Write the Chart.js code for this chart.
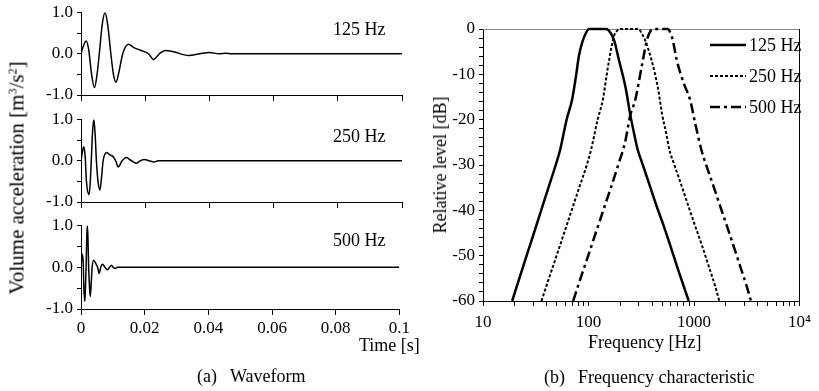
<!DOCTYPE html>
<html>
<head>
<meta charset="utf-8">
<script src="https://cdn.jsdelivr.net/npm/chart.js@4.4.1/dist/chart.umd.min.js"></script>
<style>
body{margin:0;background:#fff}
#wrap{position:relative;width:819px;height:391px;overflow:hidden;font-family:"Liberation Serif","Times New Roman",serif;color:#000}
canvas{position:absolute}
.t{position:absolute;font-size:18px;line-height:1;white-space:nowrap;transform:translateY(-50%)}
.rot{position:absolute;font-size:18px;line-height:1;white-space:nowrap;transform:translate(-50%,-50%) rotate(-90deg)}
sup{font-size:12px;vertical-align:7px;line-height:0}
</style>
</head>
<body>
<div id="wrap">
  <canvas id="w125" width="415" height="110" style="left:0;top:0"></canvas>
  <canvas id="w250" width="415" height="110" style="left:0;top:107px"></canvas>
  <canvas id="w500" width="415" height="178" style="left:0;top:213px"></canvas>
  <canvas id="freq" width="399" height="391" style="left:420px;top:0"></canvas>

  <div class="t" style="left:333px;top:29px">125 Hz</div>
  <div class="t" style="left:333px;top:136px">250 Hz</div>
  <div class="t" style="left:333px;top:240px">500 Hz</div>
  <div class="t" style="left:359px;top:345px">Time [s]</div>
  <div class="rot" style="left:17px;top:178px;font-size:21px">Volume acceleration [m<sup>3</sup>/s<sup>2</sup>]</div>
  <div class="t" style="left:197px;top:376px">(a)</div>
  <div class="t" style="left:230px;top:376px">Waveform</div>

  <div class="rot" style="left:440px;top:165px">Relative level [dB]</div>
  <div class="t" style="left:588px;top:342px">Frequency [Hz]</div>
  <div class="t" style="left:544px;top:377px">(b)</div>
  <div class="t" style="left:578px;top:377px">Frequency characteristic</div>
</div>
<script>
// waveforms (time [s], volume acceleration)
const t125 = [0, 0.0008, 0.0016, 0.0024, 0.0033, 0.0042, 0.005, 0.0057, 0.0066, 0.0075, 0.0084, 0.0093, 0.0101, 0.0109, 0.0118, 0.013, 0.0148, 0.0165, 0.0184, 0.021, 0.0226, 0.0244, 0.0262, 0.0287, 0.0335, 0.037, 0.040, 0.043, 0.045, 0.047, 0.1];
const v125 = [0, 0.2, 0.31, 0.1, -0.5, -0.82, -0.5, 0, 0.7, 1.0, 0.65, 0, -0.5, -0.69, -0.45, 0, 0.23, 0.15, 0.09, 0, -0.14, 0, 0.08, 0.05, -0.04, 0, 0.03, 0, 0.01, 0, 0];

const t250 = [0, 0.0004, 0.0009, 0.0013, 0.0017, 0.0025, 0.0029, 0.0032, 0.0036, 0.004, 0.0044, 0.0048, 0.0053, 0.0059, 0.0064, 0.0069, 0.008, 0.009, 0.01, 0.0108, 0.0116, 0.0128, 0.0141, 0.0157, 0.0172, 0.0185, 0.0197, 0.0212, 0.0228, 0.024, 0.1];
const v250 = [0, 0.2, 0.34, 0.1, -0.5, -0.82, -0.5, 0, 0.7, 1.0, 0.65, 0, -0.5, -0.71, -0.4, 0, 0.2, 0.14, 0.1, 0, -0.15, 0, 0.08, 0, -0.06, 0, 0.03, 0, -0.03, 0, 0];

const t500 = [0, 0.0002, 0.0004, 0.0007, 0.0009, 0.0012, 0.0014, 0.0016, 0.0018, 0.002, 0.0022, 0.0024, 0.0027, 0.0029, 0.0032, 0.0035, 0.004, 0.0047, 0.0052, 0.0057, 0.0062, 0.0068, 0.0075, 0.0083, 0.009, 0.0096, 0.0101, 0.0107, 0.0115, 0.1];
const v500 = [0, 0.2, 0.31, 0.1, -0.5, -0.82, -0.5, 0, 0.7, 1.0, 0.65, 0, -0.5, -0.7, -0.4, 0, 0.17, 0.08, 0, -0.15, 0, 0.07, 0, -0.06, 0, 0.05, 0, -0.03, 0, 0];

// frequency characteristic (Hz, dB)
const f125 = [18.9, 22.1, 25.9, 30.4, 35.6, 41.7, 48.9, 53.8, 62, 70, 76.5, 81, 87, 94, 101, 148, 163, 175, 194, 225, 249, 270, 293, 324, 380, 450, 514, 600, 700, 800, 891];
const L125 = [-60, -55, -50, -45, -40, -35, -30, -26.7, -20, -15.5, -10, -6, -3, -1, 0, 0, -1, -2.5, -6.8, -13, -19, -23, -26.7, -29.7, -34.5, -39.6, -43.3, -48, -52.8, -56.8, -60];

const f250 = [35.8, 42.2, 49.8, 58.7, 69.2, 81.6, 96.3, 105.6, 122, 137, 149, 157, 165, 176, 188, 201, 298, 320, 343, 395, 455, 500, 545, 585, 645, 760, 900, 1020, 1200, 1400, 1590, 1737];
const L250 = [-60, -55, -50, -45, -40, -35, -30, -26.7, -20, -15.5, -10, -6.8, -4, -1.3, -0.3, 0, 0, -1, -2.4, -6.8, -13, -19, -23, -26.7, -29.7, -34.5, -39.6, -43.3, -48, -52.8, -56.8, -60];

const f500 = [71.5, 84, 99.4, 117, 138, 163, 191, 222, 249, 277, 319, 358, 385, 410, 565, 600, 628, 685, 800, 920, 1030, 1175, 1290, 1520, 1800, 2040, 2380, 2780, 3160, 3470];
const L500 = [-60, -55, -50, -45, -40, -35, -30, -25, -19, -15.7, -8.3, -2.4, -0.5, 0, 0, -1, -2.4, -6.8, -12, -15.7, -21, -26.7, -29.7, -34.5, -39.6, -43.3, -48, -52.8, -56.8, -60];

const freqTicks = [10,20,30,40,50,60,70,80,90,100,200,300,400,500,600,700,800,900,1000,2000,3000,4000,5000,6000,7000,8000,9000,10000];
const freqLabels = {10:'10', 100:'100', 1000:'1000', 10000:'10⁴'};

const FONT = '"Liberation Serif", "Times New Roman", serif';
const tickFont = {family: FONT, size: 17, lineHeight: 1};

const pts = (xs, ys) => xs.map((x, i) => ({x, y: ys[i]}));

function waveChart(id, t, v, showLabels, xHeight){
	return new Chart(document.getElementById(id), {
		type: 'line',
		data: { datasets: [{ data: pts(t, v), borderColor: '#000', borderWidth: 1.5, pointRadius: 0, cubicInterpolationMode: 'monotone', fill: false }] },
		options: {
			responsive: false, animation: false, events: [],
			layout: { padding: { top: 10, right: 13, left: 0, bottom: 0 } },
			plugins: { legend: { display: false }, tooltip: { enabled: false } },
			scales: {
				x: {
					type: 'linear', min: 0, max: 0.1,
					ticks: { stepSize: 0.02, display: showLabels, autoSkip: false, color: '#000', font: tickFont, padding: 5, maxRotation: 0,
						callback: val => String(Number(val.toFixed(3))) },
					grid: { drawOnChartArea: false, tickLength: 6, tickColor: '#000' },
					border: { color: '#000' },
					afterFit: s => { s.height = xHeight; }
				},
				y: {
					min: -1, max: 1,
					ticks: { stepSize: 0.5, autoSkip: false, color: '#000', font: tickFont, padding: 4,
						callback: val => Number.isInteger(val) ? val.toFixed(1) : '' },
					grid: { drawOnChartArea: false, tickLength: 4, tickColor: '#000' },
					border: { color: '#000' },
					afterFit: s => { s.width = 81; }
				}
			}
		}
	});
}

waveChart('w125', t125, v125, false, 15);
waveChart('w250', t250, v250, false, 15);
waveChart('w500', t500, v500, true, 82);

const lineLegend = {
	id: 'lineLegend',
	afterDatasetsDraw(chart){
		const ctx = chart.ctx;
		chart.data.datasets.forEach((ds, i) => {
			const y = 45 + i * 31;
			ctx.save();
			ctx.strokeStyle = '#000';
			ctx.lineWidth = ds.borderWidth;
			ctx.setLineDash(ds.borderDash || []);
			ctx.beginPath(); ctx.moveTo(290, y); ctx.lineTo(326, y); ctx.stroke();
			ctx.setLineDash([]);
			ctx.fillStyle = '#000';
			ctx.font = '18px ' + FONT;
			ctx.textBaseline = 'middle';
			ctx.fillText(ds.label, 329, y + 1);
			ctx.restore();
		});
	}
};

new Chart(document.getElementById('freq'), {
	type: 'line',
	data: { datasets: [
		{ label: '125 Hz', data: pts(f125, L125), borderColor: '#000', borderWidth: 2.5, borderDash: [], pointRadius: 0, cubicInterpolationMode: 'monotone' },
		{ label: '250 Hz', data: pts(f250, L250), borderColor: '#000', borderWidth: 2, borderDash: [3, 2], pointRadius: 0, cubicInterpolationMode: 'monotone' },
		{ label: '500 Hz', data: pts(f500, L500), borderColor: '#000', borderWidth: 2.5, borderDash: [10, 4, 3, 4], pointRadius: 0, cubicInterpolationMode: 'monotone' }
	] },
	options: {
		responsive: false, animation: false, events: [],
		layout: { padding: { top: 29, right: 13, left: 0, bottom: 0 } },
		plugins: { legend: { display: false }, tooltip: { enabled: false } },
		elements: { line: { fill: false } },
		datasets: { line: { clip: false } },
		scales: {
			x: {
				type: 'logarithmic', min: 10, max: 10000,
				afterBuildTicks: s => { s.ticks = freqTicks.map(v => ({ value: v })); },
				ticks: { autoSkip: false, maxRotation: 0, color: '#000', font: tickFont, padding: 8,
					callback: val => freqLabels[val] || '' },
				grid: { drawOnChartArea: false, tickLength: 5, tickColor: '#000' },
				border: { color: '#000' },
				afterFit: s => { s.height = 90; }
			},
			y: {
				min: -60, max: 0,
				ticks: { stepSize: 2, autoSkip: false, color: '#000', font: tickFont, padding: 4,
					callback: val => val % 10 === 0 ? String(val) : '' },
				grid: { drawOnChartArea: false, tickLength: 4, tickColor: '#000' },
				border: { color: '#000' },
				afterFit: s => { s.width = 63; }
			},
			xTop: {
				type: 'logarithmic', position: 'top', min: 10, max: 10000,
				ticks: { display: false },
				grid: { drawOnChartArea: false, drawTicks: false },
				border: { color: '#888' },
				afterFit: s => { s.height = 0; }
			},
			yRight: {
				position: 'right', min: -60, max: 0,
				ticks: { display: false },
				grid: { drawOnChartArea: false, drawTicks: false },
				border: { color: '#000' },
				afterFit: s => { s.width = 0; }
			}
		}
	},
	plugins: [lineLegend]
});
</script>
</body>
</html>
